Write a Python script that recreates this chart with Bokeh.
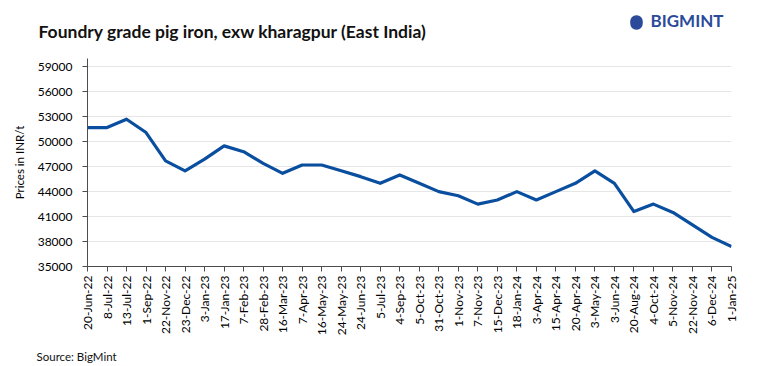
from bokeh.plotting import figure
from bokeh.models import FixedTicker, Range1d, Label
from bokeh.embed import file_html
from bokeh.resources import INLINE
import math

dates = ["20-Jun-22", "8-Jul-22", "13-Jul-22", "1-Sep-22", "22-Nov-22", "23-Dec-22",
         "3-Jan-23", "17-Jan-23", "7-Feb-23", "28-Feb-23", "16-Mar-23", "7-Apr-23",
         "16-May-23", "24-May-23", "24-Jun-23", "5-Jul-23", "4-Sep-23", "5-Oct-23",
         "31-Oct-23", "1-Nov-23", "7-Nov-23", "15-Dec-23", "18-Jan-24", "3-Apr-24",
         "15-Apr-24", "20-Apr-24", "3-May-24", "3-Jun-24", "20-Aug-24", "4-Oct-24",
         "5-Nov-24", "22-Nov-24", "6-Dec-24", "1-Jan-25"]
prices = [51700, 51700, 52700, 51100, 47700, 46500,
          47900, 49500, 48800, 47400, 46200, 47200,
          47200, 46500, 45800, 45000, 46000, 45000,
          44000, 43500, 42500, 43000, 44000, 43000,
          44000, 45000, 46500, 45000, 41600, 42500,
          41500, 40000, 38500, 37400]
y_ticks = [35000, 38000, 41000, 44000, 47000, 50000, 53000, 56000, 59000]
title_text = "Foundry grade pig iron, exw kharagpur (East India)"
y_label = "Prices in INR/t"
source_text = "Source: BigMint"
brand = "BIGMINT"

FONT = "Lato"
xs = list(range(len(dates)))

p = figure(width=758, height=366, output_backend="svg", toolbar_location=None,
           x_range=Range1d(0, len(dates) - 1), y_range=Range1d(35000, 60000),
           min_border_left=87, min_border_right=27, min_border_top=58, min_border_bottom=100)
p.outline_line_color = None
p.background_fill_color = "white"
p.border_fill_color = "white"

p.line(xs, prices, line_color="#0a4f9f", line_width=3.2, line_join="round")

# x axis
p.xaxis.ticker = FixedTicker(ticks=xs)
p.xaxis.major_label_overrides = {i: d for i, d in enumerate(dates)}
p.xaxis.major_label_orientation = math.pi / 2
p.xaxis.major_label_text_font = FONT
p.xaxis.major_label_text_font_size = "12px"
p.xaxis.major_label_text_color = "#000000"
p.xaxis.major_label_standoff = 4
p.xaxis.major_tick_out = 5
p.xaxis.major_tick_in = 0
p.xaxis.minor_tick_out = 0
p.xaxis.minor_tick_in = 0
p.xaxis.axis_line_color = "#4d4d4d"
p.xaxis.major_tick_line_color = "#4d4d4d"

# y axis
p.yaxis.ticker = FixedTicker(ticks=y_ticks)
p.yaxis.major_label_overrides = {t: str(t) for t in y_ticks}
p.yaxis.major_label_text_font = FONT
p.yaxis.major_label_text_font_size = "12px"
p.yaxis.major_label_text_color = "#000000"
p.yaxis.major_label_standoff = 10
p.yaxis.major_tick_out = 5
p.yaxis.major_tick_in = 0
p.yaxis.minor_tick_out = 0
p.yaxis.minor_tick_in = 0
p.yaxis.axis_line_color = "#4d4d4d"
p.yaxis.major_tick_line_color = "#4d4d4d"
p.yaxis.axis_label = y_label
p.yaxis.axis_label_text_font = FONT
p.yaxis.axis_label_text_font_size = "11.5px"
p.yaxis.axis_label_text_font_style = "normal"
p.yaxis.axis_label_text_color = "#000000"
p.yaxis.axis_label_standoff = 9

p.xgrid.grid_line_color = None
p.ygrid.grid_line_color = "#e6e6e6"
p.ygrid.grid_line_width = 1

# texts outside the frame, as labels in the side panels
# (each label gets its own stacked panel; screen y is upward from that panel's bottom)
p.add_layout(Label(x=-49, y=27, x_units="screen", y_units="screen", text=title_text,
                   text_font=FONT, text_font_size="17.5px", text_font_style="bold",
                   text_color="#111111", text_baseline="middle"), "above")
p.add_layout(Label(x=563, y=17, x_units="screen", y_units="screen", text=brand,
                   text_font=FONT, text_font_size="17px", text_font_style="bold",
                   text_color="#2b4a9a", text_baseline="middle"), "above")
p.add_layout(Label(x=549, y=-6, x_units="screen", y_units="screen", text=" ",
                   text_font=FONT, text_font_size="2px", text_align="center",
                   text_baseline="middle", background_fill_color="#2b4a9a",
                   border_radius=6, padding=6), "above")
p.add_layout(Label(x=-51, y=-5, x_units="screen", y_units="screen", text=source_text,
                   text_font=FONT, text_font_size="11.5px", text_color="#111111",
                   text_baseline="middle"), "below")

open("out.html", "w").write(file_html(p, INLINE))
